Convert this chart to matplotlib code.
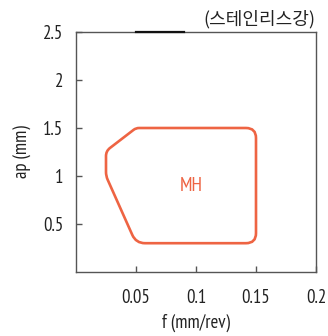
import numpy as np
import matplotlib
matplotlib.use("Agg")
import matplotlib.pyplot as plt
from matplotlib.path import Path
from matplotlib.patches import PathPatch

plt.rcParams['font.family'] = ['PT Sans Narrow', 'Noto Sans CJK KR', 'DejaVu Sans']

# boundary of the MH region (f in mm/rev, ap in mm)
f_vals = [0.025, 0.025, 0.05, 0.15, 0.15, 0.05]
ap_vals = [1.0, 1.26, 1.5, 1.5, 0.3, 0.3]
corner_px = [4, 5, 3, 10, 10, 9]   # rounding of each corner, pixels

x_ticks = [0.05, 0.1, 0.15, 0.2]
y_ticks = [0.5, 1, 1.5, 2, 2.5]
region_label = "MH"
label_pos = (0.0963, 0.90)
title = "(스테인리스강)"
line_color = "#EE6443"
spine_color = "#555555"
text_color = "#222222"


def rounded_path(pts, radii):
    # closed path with quadratic corners, points in display coords
    n = len(pts)
    verts, codes = [], []
    for i in range(n):
        p = pts[i]
        a = pts[i - 1]
        b = pts[(i + 1) % n]
        da = (a - p) / np.linalg.norm(a - p)
        db = (b - p) / np.linalg.norm(b - p)
        p1 = p + da * radii[i]
        p2 = p + db * radii[i]
        verts.append(p1)
        codes.append(Path.MOVETO if i == 0 else Path.LINETO)
        verts += [p, p2]
        codes += [Path.CURVE3, Path.CURVE3]
    verts.append(verts[0]); codes.append(Path.CLOSEPOLY)
    return Path(verts, codes)


fig = plt.figure(figsize=(3.28, 3.36), dpi=100)
ax = fig.add_axes([76 / 328, 1 - 272 / 336, 240 / 328, 240 / 336])
ax.set_xlim(0, 0.2)
ax.set_ylim(0, 2.5)

for s in ax.spines.values():
    s.set_color(spine_color)
    s.set_linewidth(1.0)

ax.set_xticks(x_ticks)
ax.set_xticklabels(["0.05", "0.1", "0.15", "0.2"])
ax.set_yticks(y_ticks)
ax.set_yticklabels(["0.5", "1", "1.5", "2", "2.5"])
ax.tick_params(direction="in", length=4, width=1, color=spine_color,
               labelsize=13.5, labelcolor=text_color)
ax.tick_params(axis="x", pad=12)
ax.tick_params(axis="y", pad=9)
ax.tick_params(top=False, right=False)

ax.set_xlabel("f (mm/rev)", fontsize=13.5, color=text_color, labelpad=5)
ax.set_ylabel("ap (mm)", fontsize=13.5, color=text_color, labelpad=8)

# darker piece on top border
ax.plot([0.05, 0.09], [2.5, 2.5], color="#111111", lw=1.6, clip_on=False, zorder=5)

pts = ax.transData.transform(np.column_stack([f_vals, ap_vals]))
path = rounded_path(pts, corner_px)
patch = PathPatch(path, facecolor="none", edgecolor=line_color, lw=1.9,
                  transform=None)
ax.add_artist(patch)

ax.text(label_pos[0], label_pos[1], region_label, color=line_color, fontsize=14,
        ha="center", va="center")

fig.text(315 / 328, 1 - 19 / 336, title, ha="right", va="center",
         fontsize=13, color=text_color, family=['Noto Sans CJK KR', 'DejaVu Sans'])

fig.savefig("out.png", dpi=100)
